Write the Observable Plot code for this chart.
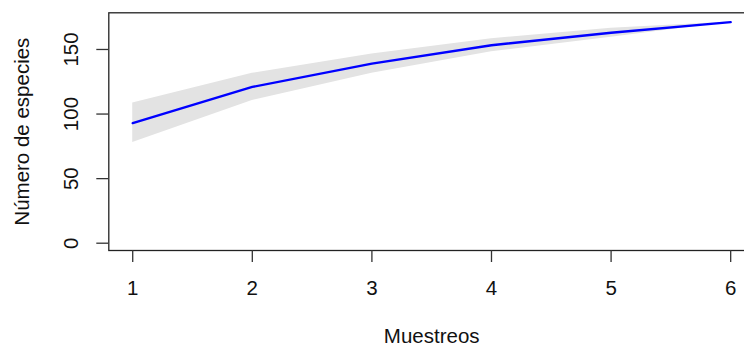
<!DOCTYPE html>
<html>
<head>
<meta charset="utf-8">
<script src="https://cdn.jsdelivr.net/npm/d3@7"></script>
<script src="https://cdn.jsdelivr.net/npm/@observablehq/plot@0.6"></script>
<style>
  html, body { margin: 0; padding: 0; background: #fff; }
  #wrap { width: 744px; height: 349px; overflow: hidden; }
  #wrap svg { max-width: none; }
</style>
</head>
<body>
<div id="wrap"></div>
<script>
// Species accumulation curve: mean richness per number of samples, with ±1 sd band
const muestreos = [1, 2, 3, 4, 5, 6];
const riqueza   = [93, 121, 139, 153.3, 163, 171.2];
const inferior  = [78, 110.5, 131.5, 148.2, 159.5, 171.2];
const superior  = [108.6, 131.5, 146.5, 158.4, 166.5, 171.2];
const xTicks = [1, 2, 3, 4, 5, 6];
const yTicks = [0, 50, 100, 150];

const rows = muestreos.map((m, i) => ({
  m, s: riqueza[i], lo: inferior[i], hi: superior[i]
}));

const font = "Liberation Sans, Arial, sans-serif";
const fs = 20.5;

const chart = Plot.plot({
  width: 755,
  height: 349,
  marginLeft: 108.3,
  marginRight: 0.9,
  marginTop: 12.3,
  marginBottom: 99,
  style: { fontFamily: font, background: "#fff", color: "#111" },
  x: { domain: [0.8, 6.2] },
  y: { domain: [-5.65, 178.4] },
  marks: [
    Plot.areaY(rows, { x: "m", y1: "lo", y2: "hi", fill: "#e3e3e3" }),
    Plot.lineY(rows, { x: "m", y: "s", stroke: "#0000ff", strokeWidth: 2.4 }),
    Plot.frame({ stroke: "#222", strokeWidth: 1.3 }),
    Plot.axisX({
      ticks: xTicks, tickSize: 12, tickPadding: 17.5, fontSize: fs,
      tickFormat: d => String(d), label: null, stroke: "#333", strokeWidth: 1.3, fill: "#111"
    }),
    Plot.axisY({
      ticks: yTicks, tickSize: 12, tickFormat: () => "", label: null,
      stroke: "#333", strokeWidth: 1.3
    }),
    // rotated y tick labels, as in base graphics
    Plot.text(yTicks, {
      y: d => d, text: d => String(d), frameAnchor: "left", dx: -37,
      rotate: -90, textAnchor: "middle", lineAnchor: "middle", fontSize: fs, fill: "#111"
    }),
    Plot.text(["Muestreos"], {
      frameAnchor: "bottom", dy: 86, lineAnchor: "middle", fontSize: fs, fill: "#111"
    }),
    Plot.text(["Número de especies"], {
      frameAnchor: "left", dx: -86, rotate: -90, lineAnchor: "middle",
      textAnchor: "middle", fontSize: fs, fill: "#111"
    })
  ]
});

document.getElementById("wrap").appendChild(chart);
</script>
</body>
</html>
